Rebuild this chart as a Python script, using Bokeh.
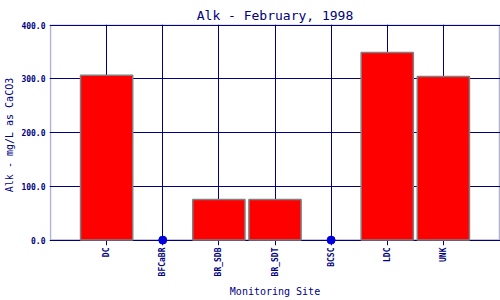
import math
from bokeh.plotting import figure
from bokeh.models import FixedTicker, Range1d, BoxAnnotation
from bokeh.embed import file_html
from bokeh.resources import INLINE

sites = ["DC", "BFCaBR", "BR_SDB", "BR_SDT", "BCSC", "LDC", "UNK"]
alk = [306.5, 0.0, 75.5, 75.5, 0.0, 349.0, 304.5]
y_ticks = [0, 100, 200, 300, 400]
title_text = "Alk - February, 1998"

NAVY = "#000080"
FONT = "DejaVu Sans Mono"

n = len(sites)
y_max = y_ticks[-1]
xs = list(range(1, n + 1))
bar_x = [x for x, v in zip(xs, alk) if v > 0]
bar_v = [v for v in alk if v > 0]
dot_x = [x for x, v in zip(xs, alk) if v == 0]
dot_v = [v for v in alk if v == 0]

# frame is slightly larger than the drawn plot box so zero-value markers are not clipped
p = figure(width=500, height=300, output_backend="svg", toolbar_location=None,
           x_range=Range1d(-0.018, n + 1.018), y_range=Range1d(-10, y_max + 1),
           min_border_left=49, min_border_right=0, min_border_top=24, min_border_bottom=55)

p.title.text = title_text
p.title.align = "center"
p.title.text_font = FONT
p.title.text_font_size = "13px"
p.title.text_font_style = "normal"
p.title.text_color = NAVY
p.title.offset = 0
p.title.standoff = 4

p.vbar(x=bar_x, top=bar_v, width=0.93, fill_color="#FF0000", line_color="#808080", line_width=1.5)
p.scatter(x=dot_x, y=dot_v, size=8, fill_color="#0000DD", line_color="#0000DD")

p.add_layout(BoxAnnotation(left=0, right=n + 1, bottom=0, top=y_max,
                           fill_color=None, line_color=NAVY, line_width=1.5, level="underlay"))

p.xaxis.ticker = FixedTicker(ticks=xs)
p.xaxis.major_label_overrides = {x: s for x, s in zip(xs, sites)}
p.xaxis.major_label_orientation = math.pi / 2
p.yaxis.ticker = FixedTicker(ticks=y_ticks)
p.yaxis.major_label_overrides = {t: f"{t:.1f}" for t in y_ticks}

for ax in (p.xaxis[0], p.yaxis[0]):
    ax.major_tick_in = 0
    ax.major_tick_out = 0
    ax.minor_tick_in = 0
    ax.minor_tick_out = 0
    ax.axis_line_color = None
    ax.major_label_text_font = FONT
    ax.major_label_text_font_size = "8px"
    ax.major_label_text_font_style = "bold"
    ax.major_label_text_color = NAVY
    ax.axis_label_text_font = FONT
    ax.axis_label_text_font_size = "10px"
    ax.axis_label_text_font_style = "normal"
    ax.axis_label_text_color = NAVY

p.xaxis.major_label_standoff = 2
p.yaxis.major_label_standoff = 4
p.xaxis.axis_label = "Monitoring Site"
p.yaxis.axis_label = "Alk - mg/L as CaCO3"
p.xaxis.axis_label_standoff = 7
p.yaxis.axis_label_standoff = 3

p.xgrid.grid_line_color = NAVY
p.ygrid.grid_line_color = NAVY
p.xgrid.bounds = (0, y_max)
p.ygrid.bounds = (0, n + 1)
p.outline_line_color = None

open("out.html", "w").write(file_html(p, INLINE))
